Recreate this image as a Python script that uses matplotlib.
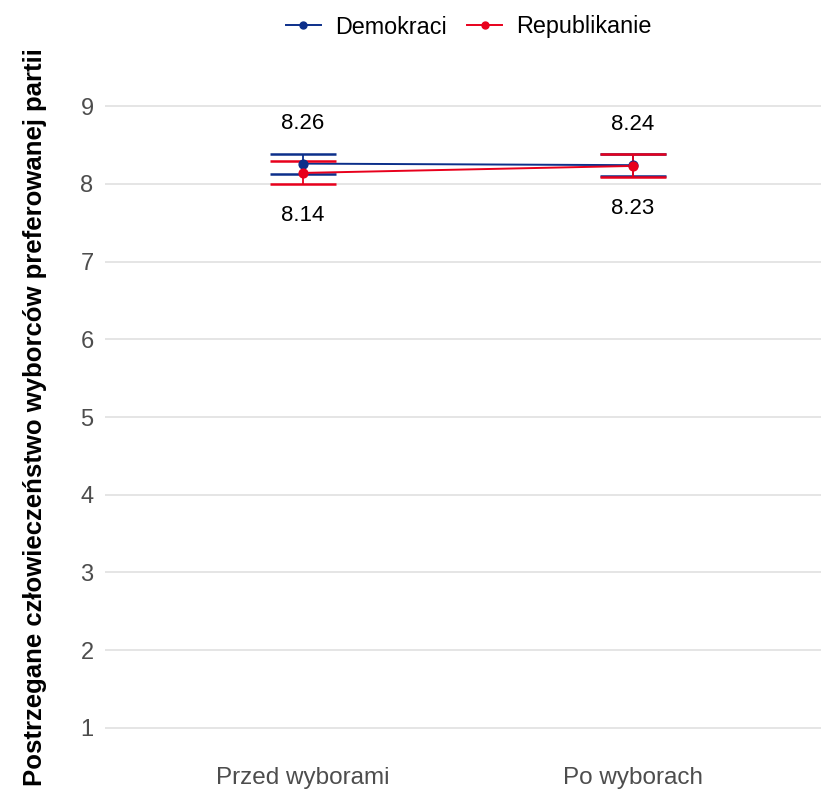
import numpy as np
import matplotlib.pyplot as plt
from matplotlib.lines import Line2D

plt.rcParams['font.family'] = ['Liberation Sans', 'DejaVu Sans']

# Data
periods = ['Przed wyborami', 'Po wyborach']
parties = ['Demokraci', 'Republikanie']
dem_mean = [8.26, 8.24]
dem_low = [8.13, 8.10]
dem_high = [8.39, 8.38]
rep_mean = [8.14, 8.23]
rep_low = [8.00, 8.09]
rep_high = [8.29, 8.38]
y_ticks = [1, 2, 3, 4, 5, 6, 7, 8, 9]

colors = {'Demokraci': '#0c2f8a', 'Republikanie': '#e8001c'}

fig = plt.figure(figsize=(8.21, 7.89), dpi=100)
# panel runs a little past the right edge, like the reference
ax = fig.add_axes([104.7 / 821, 1 - 759 / 789, 726 / 821, (759 - 75) / 789])

x = np.arange(1, len(periods) + 1)
series = [('Demokraci', dem_mean, dem_low, dem_high, 0.52),
          ('Republikanie', rep_mean, rep_low, rep_high, -0.55)]

for name, mean, low, high, off in series:
    c = colors[name]
    mean = np.array(mean)
    low = np.array(low)
    high = np.array(high)
    ax.plot(x, mean, color=c, lw=1.4, zorder=3)
    ax.errorbar(x, mean, yerr=[mean - low, high - mean], fmt='none',
                ecolor=c, elinewidth=1.3, capsize=0, zorder=3)
    for xi, lo, hi in zip(x, low, high):
        ax.hlines([lo, hi], xi - 0.1, xi + 0.1, color=c, lw=1.8, zorder=3)
    ax.scatter(x, mean, color=c, s=40, zorder=4)
    for xi, m in zip(x, mean):
        ax.text(xi, m + off, f'{m:.2f}', ha='center', va='center',
                fontsize=16, color='black')

ax.set_xlim(0.4, 2.6)
ax.set_ylim(0.6, 9.4)
ax.set_xticks(x)
ax.set_xticklabels(periods, fontsize=17.5, color='#4d4d4d')
ax.set_yticks(y_ticks)
ax.tick_params(axis='y', labelsize=17, labelcolor='#4d4d4d', length=0, pad=8)
ax.tick_params(axis='x', length=0, pad=6)
ax.grid(axis='y', color='#e5e5e5', lw=1.4)
ax.grid(axis='x', visible=False)
for s in ax.spines.values():
    s.set_visible(False)
ax.set_ylabel('Postrzegane człowieczeństwo wyborców preferowanej partii',
              fontsize=18.5, fontweight='bold', labelpad=24)

handles = [Line2D([0], [0], color=colors[p], lw=1.4, marker='o', markersize=5)
           for p in parties]
fig.legend(handles, parties, loc='center', bbox_to_anchor=(0.571, 1 - 27 / 789),
           ncol=2, frameon=False, fontsize=16.8, handlelength=1.5,
           handletextpad=0.6, columnspacing=0.9)

fig.savefig('out.png', dpi=100)
